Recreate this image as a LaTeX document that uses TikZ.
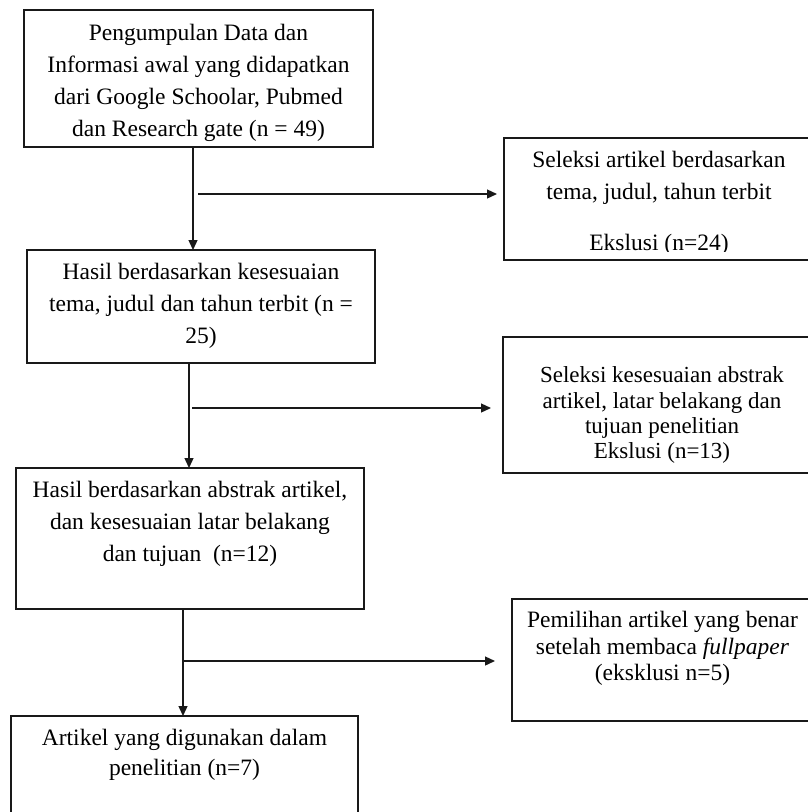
\documentclass[tikz,border=0pt]{standalone}
\usepackage{fontspec}
\setmainfont{Liberation Serif}
\usetikzlibrary{arrows.meta}
\newcommand\boxtext[6]{\parbox[c][#2pt][t]{#1pt}{\fontsize{#5}{#4}\selectfont\centering\vspace*{#3pt}\strut #6}}
\begin{document}
\begin{tikzpicture}[x=1pt,y=-1pt,
  box/.style={draw=black!90, line width=1.3pt, inner sep=0pt, outer sep=0pt, anchor=north west},
  txt/.style={inner sep=0pt, font=\fontsize{23.5}{32}\selectfont},
  arr/.style={draw=black!90, line width=1.3pt, -{Triangle[length=10pt,width=9pt]}},
  ln/.style={draw=black!90, line width=1.3pt}]
\useasboundingbox (0,0) rectangle (808,812);
\clip (0,0) rectangle (808,812);
% left column
\node[box] (b1) at (24,10) {\boxtext{349}{137}{8.1}{32}{23.5}{Pengumpulan Data dan\\Informasi awal yang didapatkan\\dari Google Schoolar, Pubmed\\dan Research gate (n = 49)}};
\node[box] (b2) at (27,250) {\boxtext{348}{113}{7.1}{32}{23.5}{Hasil berdasarkan kesesuaian\\tema, judul dan tahun terbit (n =\\25)}};
\node[box] (b3) at (16,468) {\boxtext{348}{141}{7.1}{32}{23.5}{Hasil berdasarkan abstrak artikel,\\dan kesesuaian latar belakang\\dan tujuan~~(n=12)}};
\node[box] (b4) at (11,716) {\boxtext{347}{130}{8.5}{30}{23.5}{Artikel yang digunakan dalam\\penelitian (n=7)}};
% right column
\node[box] (r1) at (504,138) {\boxtext{310}{122}{7.1}{32}{23.5}{Seleksi artikel berdasarkan\\tema, judul, tahun terbit}};
\begin{scope}
  \clip (505,200) rectangle (808,251.5);
  \node[txt, anchor=base] (r1c) at (659,250.5) {Ekslusi (n=24)};
\end{scope}
\node[box] (r2) at (503,337) {\boxtext{318}{136}{28}{25.3}{23}{Seleksi kesesuaian abstrak\\artikel, latar belakang dan\\tujuan penelitian\\Ekslusi (n=13)}};
\node[box] (r3) at (512,599) {\boxtext{301}{122}{9.95}{26.5}{23.5}{Pemilihan artikel yang benar\\setelah membaca \textit{fullpaper}\\(eksklusi n=5)}};
% connectors
\coordinate (h1) at (198,194);
\coordinate (h2) at (192,408);
\coordinate (h3) at (184,661);
\draw[arr] (b1.south -| 193,0) -- (b2.north -| 193,0);
\draw[arr] (b2.south -| 189,0) -- (b3.north -| 189,0);
\draw[arr] (b3.south -| 183,0) -- (b4.north -| 183,0);
\draw[arr, shorten >=7pt] (h1) -- (r1.west |- h1);
\draw[arr, shorten >=12pt] (h2) -- (r2.west |- h2);
\draw[arr, shorten >=17pt] (h3) -- (r3.west |- h3);
\end{tikzpicture}
\end{document}
